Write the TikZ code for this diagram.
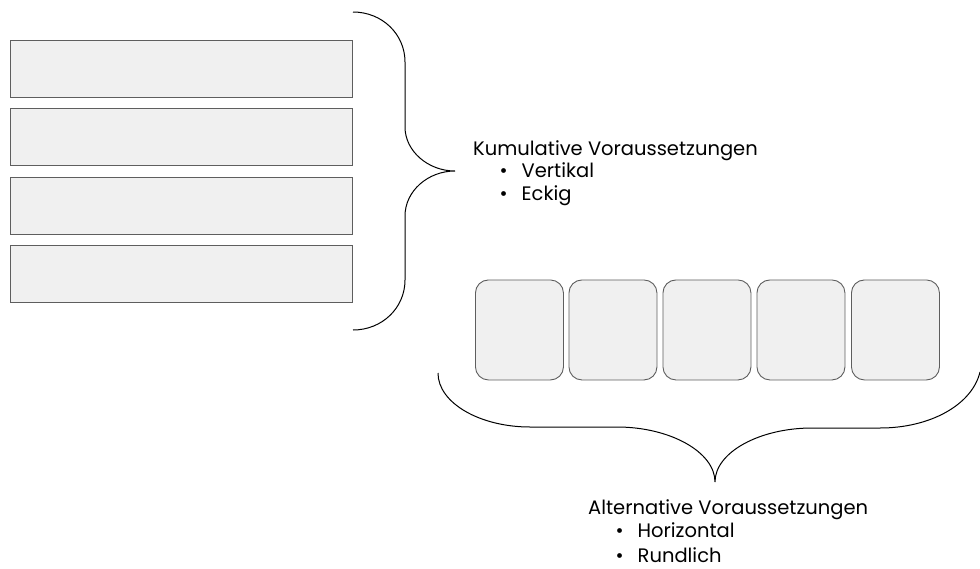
\documentclass[tikz,border=0pt]{standalone}
\usepackage{fontspec}
\setmainfont{Poppins}
\definecolor{boxfill}{HTML}{F0F0F0}
\definecolor{boxline}{HTML}{5E5E5E}
\newcommand{\bulitem}[1]{\makebox[22pt][l]{•}#1}
\tikzset{
  bar/.style={draw=boxline, fill=boxfill, line width=0.9pt, minimum width=342pt, minimum height=57pt, inner sep=0pt, anchor=north west},
  tile/.style={draw=boxline, fill=boxfill, line width=0.9pt, rounded corners=13pt, minimum width=88pt, minimum height=100pt, inner sep=0pt, anchor=north west},
  bracepath/.style={draw=black, line width=1pt},
  lbl/.style={anchor=base west, inner sep=0pt, font=\fontsize{19.5}{22}\selectfont, text=black}
}
\begin{document}
\begin{tikzpicture}[x=1pt,y=-1pt]
\useasboundingbox (0,0) rectangle (980,568);
% vertical bars
\node[bar] (r1) at (10,39.5) {};
\node[bar] (r2) at (10,108) {};
\node[bar] (r3) at (10,176.5) {};
\node[bar] (r4) at (10,245) {};
% rounded tiles
\node[tile] (s1) at (475,279.5) {};
\node[tile] (s2) at (568.5,279.5) {};
\node[tile] (s3) at (662.5,279.5) {};
\node[tile] (s4) at (756.5,279.5) {};
\node[tile] (s5) at (851,279.5) {};
% right brace
\draw[bracepath] (353,12) .. controls (382,12) and (405,34) .. (405,62)
  -- (405,127) .. controls (405,151) and (428,171) .. (455,171)
  .. controls (428,171) and (405,191) .. (405,216)
  -- (405,280) .. controls (405,308) and (382,330) .. (353,330);
% bottom brace
\draw[bracepath] (438,373) .. controls (438,403) and (480,427) .. (530,427)
  -- (617,427) .. controls (670,427) and (715,452) .. (715,482)
  .. controls (715,452) and (760,428) .. (812,428)
  -- (880,428) .. controls (930,428) and (972,405) .. (980,372);
% labels
\node[lbl] (k0) at (473,155) {Kumulative Voraussetzungen};
\node[lbl] (k1) at (499.5,177.5) {\bulitem{Vertikal}};
\node[lbl] (k2) at (499.5,200.5) {\bulitem{Eckig}};
\node[lbl] (a0) at (588,514) {Alternative Voraussetzungen};
\node[lbl] (a1) at (615.5,537) {\bulitem{Horizontal}};
\node[lbl] (a2) at (615.5,562) {\bulitem{Rundlich}};
\end{tikzpicture}
\end{document}
